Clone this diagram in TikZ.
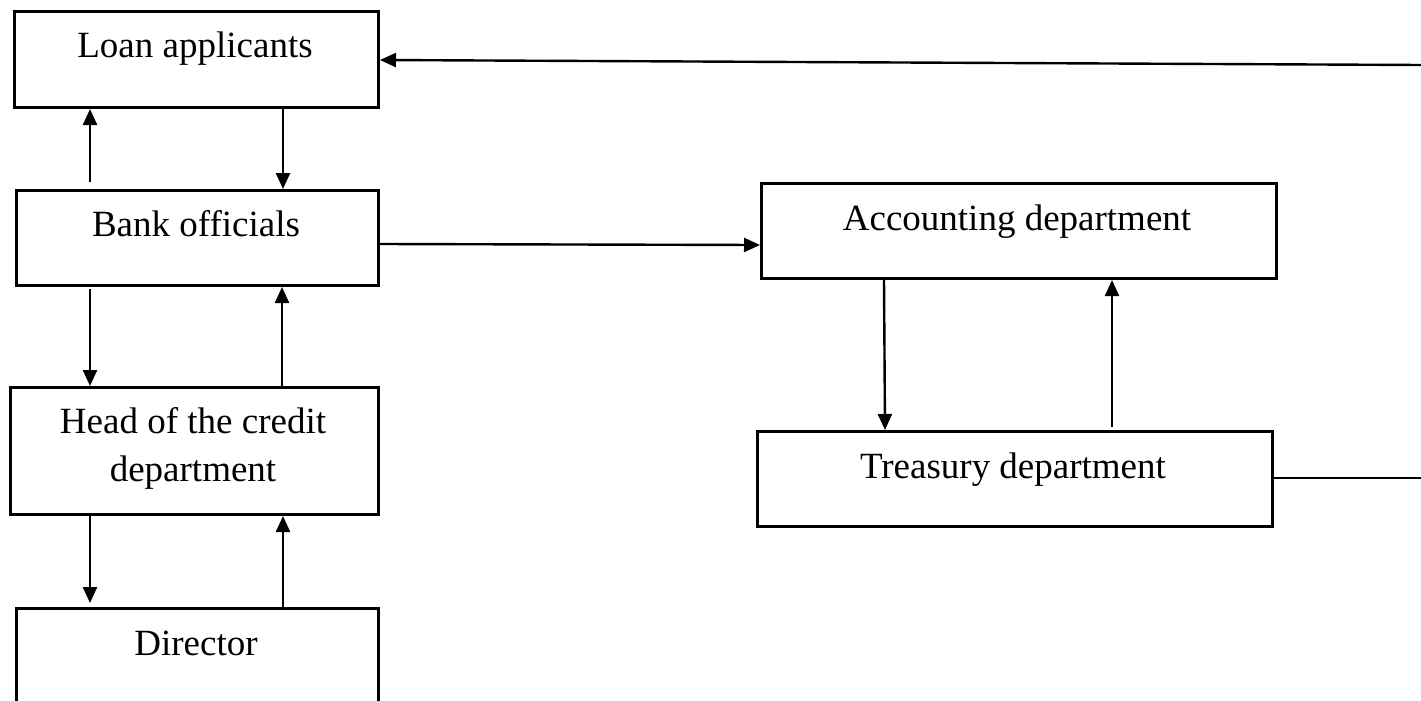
\documentclass[tikz,border=0pt]{standalone}
\usepackage{fontspec}
\setmainfont{Liberation Serif}
\usetikzlibrary{arrows.meta}
\begin{document}
\begin{tikzpicture}[x=1pt,y=-1pt,
  box/.style={draw=black, line width=3pt, rectangle, inner sep=0pt, anchor=north west},
  lbl/.style={inner sep=0pt, anchor=base, font=\fontsize{37}{44}\selectfont},
  arr/.style={line width=2.4pt, -{Triangle[length=16pt,width=14pt]}},
  plain/.style={line width=2.4pt}]
\useasboundingbox (0,0) rectangle (1421,701);
\clip (0,0) rectangle (1421,701);
% boxes
\node[box, minimum width=364pt, minimum height=96pt] (la) at (13,10) {};
\node[box, minimum width=362pt, minimum height=95pt] (bo) at (15,189) {};
\node[box, minimum width=368pt, minimum height=127pt] (hc) at (9,386) {};
\node[box, minimum width=362pt, minimum height=110pt] (dr) at (15,607) {};
\node[box, minimum width=515pt, minimum height=95pt] (ad) at (760,182) {};
\node[box, minimum width=515pt, minimum height=95pt] (td) at (756,430) {};
% labels
\node[lbl] (lat) at (195,58) {Loan applicants};
\node[lbl] (bot) at (196,236) {Bank officials};
\node[lbl] (hct1) at (193,433) {Head of the credit};
\node[lbl] (hct2) at (193,481) {department};
\node[lbl] (drt) at (196,655) {Director};
\node[lbl] (adt) at (1017,230) {Accounting department};
\node[lbl] (tdt) at (1013,478) {Treasury department};
% edge coordinates
\coordinate (e1) at (1421,65);
\coordinate (e2) at (1421,478);
% connectors
\draw[arr] (90,182) -- (la.south -| 90,0);
\draw[arr] (la.south -| 283,0) -- (bo.north -| 283,0);
\draw[arr] (90,289) -- (hc.north -| 90,0);
\draw[arr] (hc.north -| 282,0) -- (bo.south -| 282,0);
\draw[arr] (hc.south -| 90,0) -- (90,603);
\draw[arr] (dr.north -| 283,0) -- (hc.south -| 283,0);
\draw[arr] (ad.south -| 884,0) -- (td.north -| 885,0);
\draw[arr] (1112,427) -- (ad.south -| 1112,0);
\draw[arr] (bo.east |- 0,244) -- (ad.west |- 0,245);
\draw[arr] (e1) -- (la.east |- 0,60);
\draw[plain] (td.east |- e2) -- (e2);
\end{tikzpicture}
\end{document}
